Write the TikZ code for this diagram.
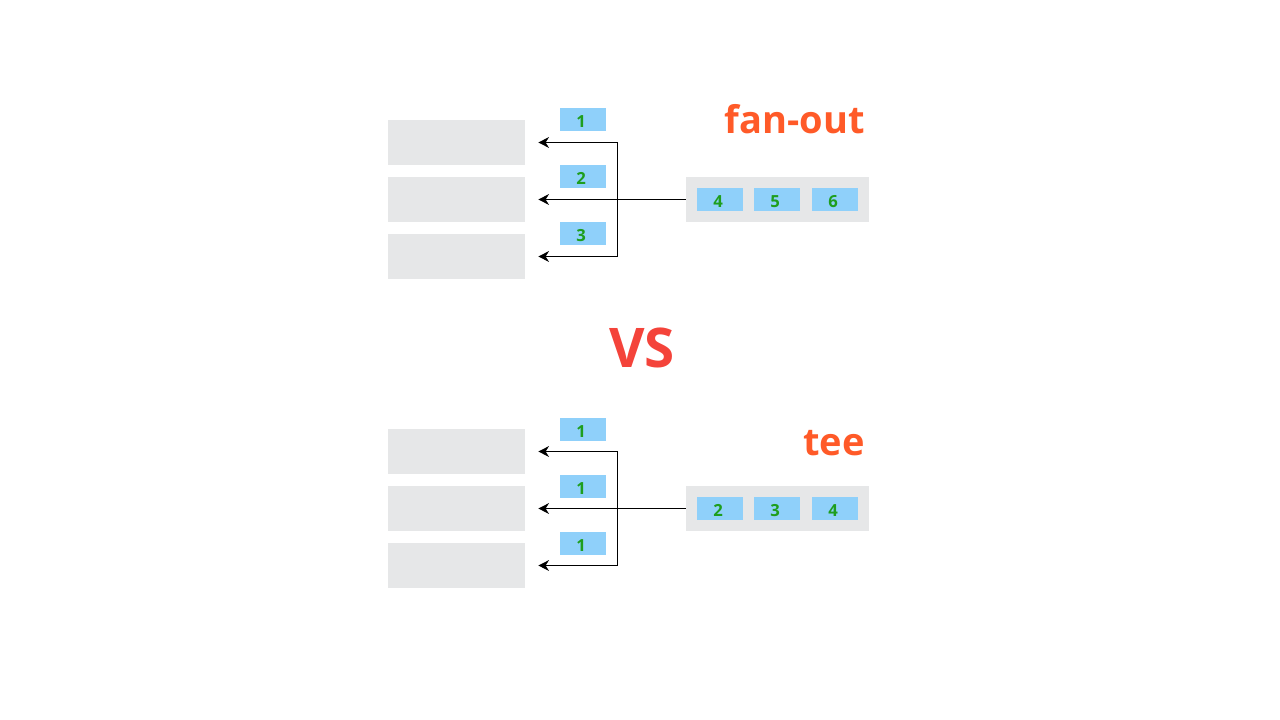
\documentclass[tikz,border=0pt]{standalone}
\usepackage{fontspec}
\setmainfont{Open Sans}
\usepackage{xcolor}
\usepackage{tikz}
\usetikzlibrary{positioning,arrows.meta}

\definecolor{slotgray}{HTML}{E6E7E8}
\definecolor{tagblue}{HTML}{8FD0FA}
\definecolor{digitgreen}{HTML}{1E9E1E}
\definecolor{titleorange}{HTML}{FF5A28}
\definecolor{vsred}{HTML}{F4433A}

\tikzset{
    slot/.style={fill=slotgray,minimum width=102.75pt,minimum height=33.75pt,inner sep=0pt},
    srcbox/.style={fill=slotgray,minimum width=137.25pt,minimum height=33.75pt,inner sep=0pt},
    tag/.style={fill=tagblue,minimum width=34.5pt,minimum height=17.25pt,inner sep=0pt,
                text height=11.5pt,text depth=0pt,
                text=digitgreen,font=\fontsize{12.5}{12.5}\selectfont\bfseries,
                execute at begin node={\hspace*{-3pt}}},
    flow/.style={-{Stealth[length=8pt,width=8pt,inset=2.5pt]},line width=0.75pt},
    title/.style={anchor=base east,inner sep=0pt,text=titleorange,font=\fontsize{28.5}{30}\selectfont\bfseries}
}

\begin{document}
\begin{tikzpicture}[x=0.75pt,y=-0.75pt]
    \useasboundingbox (0,0) rectangle (1280,720);

    % fan-out
    \node[title] (fanout) at (865,134) {fan-out};
    \node[slot] (fa) at (456.5,142.5) {};
    \node[slot] (fb) at (456.5,199.5) {};
    \node[slot] (fc) at (456.5,256.5) {};
    \node[tag] (ft1) at (583,119.5) {1};
    \node[tag] (ft2) at (583,176.5) {2};
    \node[tag] (ft3) at (583,233.5) {3};
    \node[srcbox] (fsrc) at (777.5,199.5) {};
    \node[tag] (fs4) at (720,199.5) {4};
    \node[tag] (fs5) at (777,199.5) {5};
    \node[tag] (fs6) at (835,199.5) {6};
    \coordinate (fhub) at (617,199.5);
    \draw[flow] (fsrc.west) -- ([xshift=9.75pt]fb.east);
    \draw[flow] (fhub) |- ([xshift=9.75pt]fa.east);
    \draw[flow] (fhub) |- ([xshift=9.75pt]fc.east);

    % VS
    \node[anchor=base,inner sep=0pt,text=vsred,font=\fontsize{41}{43}\selectfont\bfseries] (vs) at (642,367) {VS};

    % tee
    \node[title] (tee) at (865,455) {tee};
    \node[slot] (ta) at (456.5,451.5) {};
    \node[slot] (tb) at (456.5,508.5) {};
    \node[slot] (tc) at (456.5,565.5) {};
    \node[tag] (tt1) at (583,429.5) {1};
    \node[tag] (tt2) at (583,486.5) {1};
    \node[tag] (tt3) at (583,543.5) {1};
    \node[srcbox] (tsrc) at (777.5,508.5) {};
    \node[tag] (ts2) at (720,508.5) {2};
    \node[tag] (ts3) at (777,508.5) {3};
    \node[tag] (ts4) at (835,508.5) {4};
    \coordinate (thub) at (617,508.5);
    \draw[flow] (tsrc.west) -- ([xshift=9.75pt]tb.east);
    \draw[flow] (thub) |- ([xshift=9.75pt]ta.east);
    \draw[flow] (thub) |- ([xshift=9.75pt]tc.east);
\end{tikzpicture}
\end{document}
